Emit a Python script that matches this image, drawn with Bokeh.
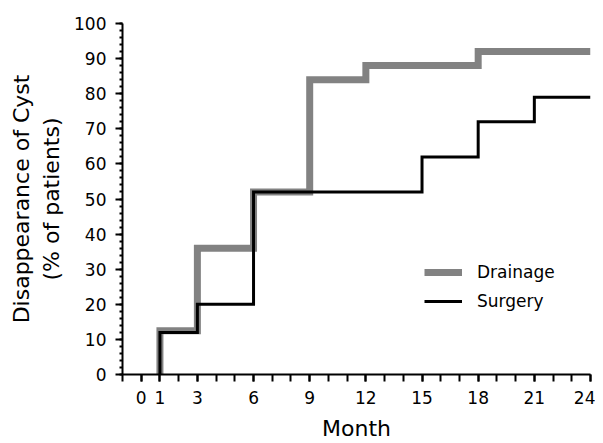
from bokeh.plotting import figure
from bokeh.models import FixedTicker, Range1d, Legend, LegendItem
from bokeh.embed import file_html
from bokeh.resources import INLINE

# Data (months, % of patients with cyst disappearance)
drainage_month = [1, 3, 6, 9, 12, 18]
drainage_pct = [12.5, 36, 52, 84, 88, 92]
surgery_month = [1, 3, 6, 15, 18, 21]
surgery_pct = [12, 20, 52, 62, 72, 79]
end_month = 24

x_major = [0, 1, 3, 6, 9, 12, 15, 18, 21, 24]
x_minor = list(range(-1, 25))
y_major = list(range(0, 101, 10))
y_minor = list(range(0, 101, 2))

FONT = "DejaVu Sans"


def step_path(months, pcts, end):
    xs, ys = [months[0]], [0]
    prev = 0
    for m, v in zip(months, pcts):
        xs += [m, m]
        ys += [prev, v]
        prev = v
    xs.append(end)
    ys.append(prev)
    return xs, ys


p = figure(width=595, height=443, output_backend="svg", toolbar_location=None,
           x_range=Range1d(-1, 24), y_range=Range1d(0, 100),
           min_border_left=122, min_border_right=5, min_border_top=23,
           min_border_bottom=68)
p.outline_line_color = None
p.grid.visible = False
p.background_fill_color = "white"
p.border_fill_color = "white"

dx, dy = step_path(drainage_month, drainage_pct, end_month)
sx, sy = step_path(surgery_month, surgery_pct, end_month)
r_d = p.line(dx, dy, line_color="#828282", line_width=7, line_join="miter")
r_s = p.line(sx, sy, line_color="black", line_width=3, line_join="miter")

xa = p.xaxis[0]
xa.ticker = FixedTicker(ticks=x_major, minor_ticks=x_minor)
xa.axis_label = "Month"
ya = p.yaxis[0]
ya.ticker = FixedTicker(ticks=y_major, minor_ticks=y_minor)
ya.axis_label = "Disappearance of Cyst\n(% of patients)"

for ax in (xa, ya):
    ax.axis_line_width = 2
    ax.axis_line_color = "black"
    ax.major_tick_line_width = 2
    ax.minor_tick_line_width = 2
    ax.major_tick_line_color = "black"
    ax.minor_tick_line_color = "black"
    ax.major_tick_in = 0
    ax.minor_tick_in = 0
    ax.major_label_text_font = FONT
    ax.major_label_text_font_size = "17px"
    ax.major_label_text_color = "black"
    ax.axis_label_text_font = FONT
    ax.axis_label_text_font_size = "22px"
    ax.axis_label_text_font_style = "normal"
    ax.axis_label_text_color = "black"

xa.major_tick_out = 7
xa.minor_tick_out = 7
xa.major_label_standoff = 9
xa.axis_label_standoff = 9
ya.major_tick_out = 7
ya.minor_tick_out = 3
ya.major_label_standoff = 9
ya.axis_label_standoff = 7

legend = Legend(items=[LegendItem(label="Drainage", renderers=[r_d]),
                       LegendItem(label="Surgery", renderers=[r_s])],
                location=(302, 63), orientation="vertical",
                border_line_color=None, background_fill_alpha=0,
                padding=0, margin=0, spacing=9,
                glyph_width=38, glyph_height=20, label_height=20,
                label_standoff=15, label_text_font=FONT,
                label_text_font_size="17px", label_text_color="black")
p.add_layout(legend)

open("out.html", "w").write(file_html(p, INLINE))
